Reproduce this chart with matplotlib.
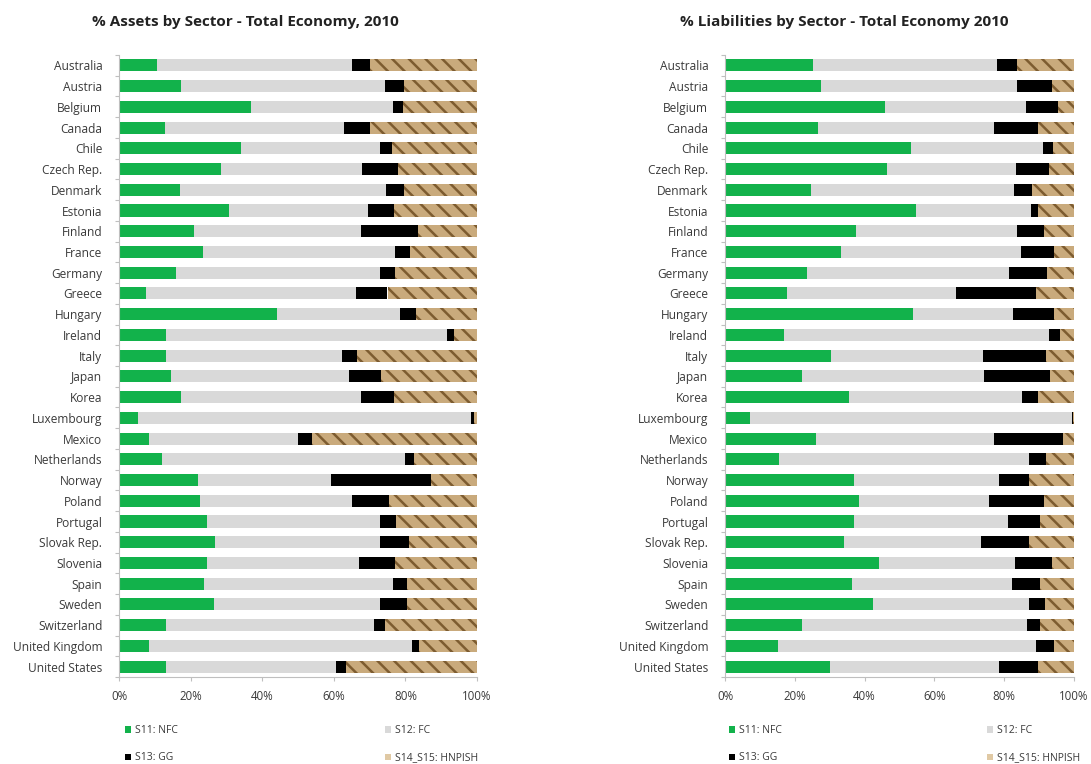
import matplotlib
matplotlib.use("Agg")
import matplotlib.pyplot as plt
import numpy as np
from matplotlib.patches import Patch
from matplotlib.ticker import FixedLocator, PercentFormatter

countries = ["Australia", "Austria", "Belgium", "Canada", "Chile", "Czech Rep.", "Denmark",
             "Estonia", "Finland", "France", "Germany", "Greece", "Hungary", "Ireland", "Italy",
             "Japan", "Korea", "Luxembourg", "Mexico", "Netherlands", "Norway", "Poland",
             "Portugal", "Slovak Rep.", "Slovenia", "Spain", "Sweden", "Switzerland",
             "United Kingdom", "United States"]

series_names = ["S11: NFC", "S12: FC", "S13: GG", "S14_S15: HNPISH"]

# Assets (%)
assets_nfc = [10.5, 17.4, 36.8, 12.9, 34.1, 28.4, 16.9, 30.6, 20.9, 23.4, 15.8, 7.5, 44.0, 13.1, 13.1,
              14.5, 17.2, 5.4, 8.5, 11.9, 22.0, 22.5, 24.7, 26.9, 24.7, 23.8, 26.5, 13.1, 8.5, 13.1]
assets_fc = [54.6, 56.8, 39.8, 50.0, 38.8, 39.4, 57.8, 38.9, 46.6, 53.7, 57.0, 58.8, 34.6, 78.6, 49.1,
             49.8, 50.4, 92.8, 41.6, 67.9, 37.2, 42.6, 48.3, 46.1, 42.4, 52.7, 46.5, 58.1, 73.3, 47.4]
assets_gg = [4.9, 5.3, 2.7, 7.1, 3.4, 10.1, 5.0, 7.4, 15.9, 4.2, 4.2, 8.7, 4.3, 1.8, 4.3,
             8.8, 9.2, 1.1, 3.8, 2.5, 27.9, 10.4, 4.5, 8.1, 9.9, 4.0, 7.5, 3.0, 1.9, 3.0]
assets_hh = [30.0, 20.5, 20.7, 30.0, 23.7, 22.1, 20.3, 23.1, 16.6, 18.7, 23.0, 25.0, 17.1, 6.5, 33.5,
             26.9, 23.2, 0.7, 46.1, 17.7, 12.9, 24.5, 22.5, 18.9, 23.0, 19.5, 19.5, 25.8, 16.3, 36.5]

# Liabilities (%)
liab_nfc = [25.2, 27.6, 45.9, 26.6, 53.3, 46.5, 24.7, 54.7, 37.4, 33.2, 23.5, 17.7, 53.9, 16.9, 30.4,
            22.2, 35.6, 7.3, 26.0, 15.5, 37.0, 38.3, 37.0, 34.2, 44.2, 36.4, 42.3, 22.0, 15.2, 30.2]
liab_fc = [52.6, 56.0, 40.4, 50.6, 37.7, 36.8, 58.0, 33.0, 46.3, 51.5, 58.0, 48.6, 28.5, 75.9, 43.6,
           52.1, 49.6, 92.0, 51.2, 71.7, 41.4, 37.3, 44.2, 39.2, 38.9, 45.9, 44.7, 64.6, 74.0, 48.3]
liab_gg = [6.0, 10.0, 9.2, 12.4, 3.1, 9.6, 5.3, 1.9, 7.8, 9.7, 10.9, 22.7, 12.0, 3.2, 17.9,
           18.9, 4.4, 0.3, 19.6, 4.7, 8.8, 15.9, 9.2, 13.8, 10.7, 8.1, 4.6, 3.6, 5.2, 11.1]
liab_hh = [16.2, 6.4, 4.5, 10.4, 5.9, 7.1, 12.0, 10.4, 8.5, 5.6, 7.6, 11.0, 5.6, 4.0, 8.1,
           6.8, 10.4, 0.4, 3.2, 8.1, 12.8, 8.5, 9.6, 12.8, 6.2, 9.6, 8.4, 9.8, 5.6, 10.4]

titles = ["% Assets by Sector - Total Economy, 2010", "% Liabilities by Sector - Total Economy 2010"]
xticks = [0, 20, 40, 60, 80, 100]

GREEN = "#12b24b"
GREY = "#d9d9d9"
BLACK = "#000000"
TAN = "#c9aa7c"
BROWN = "#7d5c30"
TXT = "#3a3a3a"
AX = "#bfbfbf"

plt.rcParams['font.family'] = ['Open Sans', 'DejaVu Sans']
plt.rcParams['hatch.linewidth'] = 1.8

fig = plt.figure(figsize=(10.91, 7.64), dpi=100)
fig.patch.set_facecolor("white")

axes_pos = [[119/1091, 1-677/764, 358/1091, (677-55)/764],
            [725/1091, 1-677/764, 349/1091, (677-55)/764]]
title_x = [245/1091, 844/1091]
legend_x = [[118/1091, 378/1091], [722/1091, 980/1091]]

data = [(assets_nfc, assets_fc, assets_gg, assets_hh), (liab_nfc, liab_fc, liab_gg, liab_hh)]

for k in range(2):
    ax = fig.add_axes(axes_pos[k])
    y = np.arange(len(countries))
    nfc, fc, gg, hh = [np.array(v) for v in data[k]]
    h = 0.58
    ax.barh(y, nfc, height=h, color=GREEN, linewidth=0)
    ax.barh(y, fc, left=nfc, height=h, color=GREY, linewidth=0)
    ax.barh(y, gg, left=nfc + fc, height=h, color=BLACK, linewidth=0)
    ax.barh(y, hh, left=nfc + fc + gg, height=h, facecolor=TAN, edgecolor=BROWN,
            hatch="\\\\", linewidth=0)
    ax.set_xlim(0, 100)
    ax.set_ylim(len(countries) - 0.5, -0.5)
    ax.set_yticks(y)
    ax.set_yticklabels(countries, fontsize=8.6, color=TXT)
    ax.yaxis.set_minor_locator(FixedLocator(np.arange(-0.5, len(countries), 1.0)))
    ax.tick_params(axis='y', which='major', length=0, pad=12)
    ax.tick_params(axis='y', which='minor', length=3, color=AX, width=0.8)
    ax.set_xticks(xticks)
    ax.xaxis.set_major_formatter(PercentFormatter(decimals=0))
    ax.tick_params(axis='x', length=3, color=AX, width=0.8, labelsize=8.3, labelcolor=TXT, pad=6)
    for s in ["top", "right"]:
        ax.spines[s].set_visible(False)
    for s in ["left", "bottom"]:
        ax.spines[s].set_color(AX)
        ax.spines[s].set_linewidth(0.8)
    fig.text(title_x[k], 1 - 22/764, titles[k], ha="center", va="center",
             fontsize=11, fontweight="bold", color="#222222")

    handles = [Patch(facecolor=GREEN), Patch(facecolor=GREY),
               Patch(facecolor=BLACK), Patch(facecolor="#e0c9a4")]
    cols = [[0, 2], [1, 3]]
    for c in range(2):
        fig.legend([handles[i] for i in cols[c]], [series_names[i] for i in cols[c]],
                   loc="upper left", bbox_to_anchor=(legend_x[k][c], 1 - 718/764),
                   frameon=False, fontsize=7.5, handlelength=0.55, handleheight=0.55,
                   handletextpad=0.35, labelspacing=1.55, borderpad=0.2,
                   labelcolor=TXT)

fig.savefig("out.png", dpi=100, facecolor="white")
